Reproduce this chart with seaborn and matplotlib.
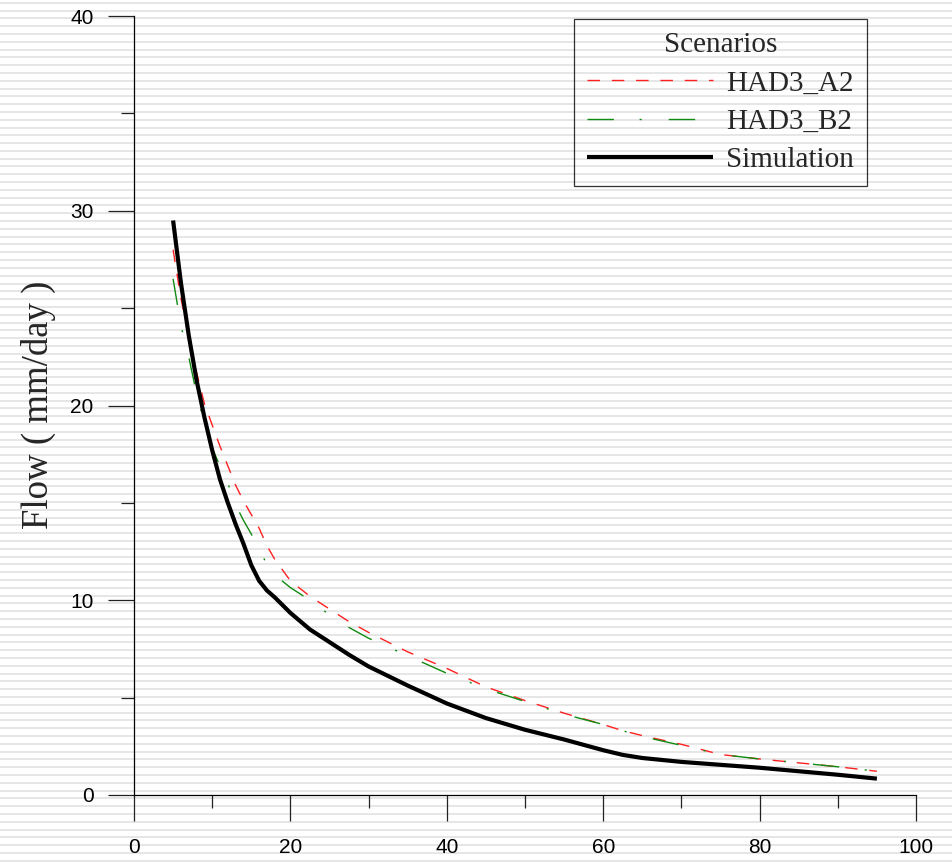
import numpy as np
import pandas as pd
import matplotlib
matplotlib.use("Agg")
import matplotlib.pyplot as plt
from matplotlib.lines import Line2D
import seaborn as sns

# Exceedance percentage (%) shared by all flow-duration curves
exceedance = [5, 6, 7, 8, 9, 10, 11, 12, 13, 14, 15, 16, 17, 18, 20, 22.5, 25,
              27.5, 30, 35, 40, 45, 50, 55, 60, 62.5, 65, 70, 75, 80, 85, 90, 95]

# Flow (mm/day) for each scenario
flow_a2 = [28.0, 25.5, 23.6, 21.7, 20.1, 19.0, 17.9, 16.9, 15.9, 15.1, 14.4,
           13.7, 12.8, 12.1, 11.0, 10.2, 9.55, 8.9, 8.35, 7.35, 6.5, 5.55,
           4.85, 4.2, 3.62, 3.3, 3.05, 2.6, 2.08, 1.85, 1.65, 1.45, 1.22]
flow_b2 = [26.5, 24.1, 22.5, 20.6, 19.1, 17.8, 16.9, 16.0, 14.9, 14.1, 13.4,
           12.7, 11.8, 11.3, 10.65, 10.0, 9.25, 8.6, 8.05, 7.15, 6.25, 5.45,
           4.8, 4.15, 3.62, 3.3, 3.0, 2.55, 2.08, 1.85, 1.65, 1.45, 1.22]
flow_sim = [29.5, 26.3, 23.6, 21.3, 19.4, 17.7, 16.2, 15.0, 13.9, 12.9, 11.8,
            11.0, 10.5, 10.15, 9.35, 8.5, 7.85, 7.2, 6.6, 5.62, 4.7, 3.95,
            3.35, 2.85, 2.3, 2.06, 1.9, 1.7, 1.55, 1.40, 1.22, 1.04, 0.84]

series_names = ["HAD3_A2", "HAD3_B2", "Simulation"]
x_ticks = [0, 20, 40, 60, 80, 100]
y_ticks = [0, 10, 20, 30, 40]

sns.set_theme(style="ticks")
plt.rcParams["font.family"] = ["Liberation Sans", "DejaVu Sans"]

W, H = 953, 864
fig = plt.figure(figsize=(W / 100, H / 100), dpi=100)
fig.patch.set_facecolor("white")

# Striped page background
bg = fig.add_axes([0, 0, 1, 1], zorder=-10)
bg.set_xlim(0, 1)
bg.set_ylim(H, 0)
bg.axis("off")
stripe_y = np.arange(2.7, H, 7.8)
bg.hlines(stripe_y, 0, 1, color="#e6e6e6", lw=1.4)

ax = fig.add_axes([134 / W, 1 - 795 / H, (916 - 134) / W, (795 - 16) / H])
ax.set_facecolor("none")

df = pd.DataFrame({"x": exceedance, "a2": flow_a2, "b2": flow_b2, "sim": flow_sim})

style_a2 = dict(color="#ff2020", lw=1.0, linestyle=(0, (9.0, 8.5)))
style_b2 = dict(color="#108a10", lw=1.0, linestyle=(0, (19.0, 18.5, 1.5, 19.5)))
style_sim = dict(color="black", lw=3.0, linestyle="-", solid_capstyle="butt")

sns.lineplot(data=df, x="x", y="a2", ax=ax, **style_a2)
sns.lineplot(data=df, x="x", y="b2", ax=ax, **style_b2)
sns.lineplot(data=df, x="x", y="sim", ax=ax, **style_sim)

ax.set_xlim(0, 100)
ax.set_ylim(0, 40)
ax.set_xticks(x_ticks)
ax.set_xticks(np.arange(10, 100, 20), minor=True)
ax.set_yticks(y_ticks)
ax.set_yticks(np.arange(5, 40, 10), minor=True)
ax.set_xticklabels([str(v) for v in x_ticks])
ax.set_yticklabels([str(v) for v in y_ticks])

for side in ("top", "right"):
    ax.spines[side].set_visible(False)
for side in ("left", "bottom"):
    ax.spines[side].set_color("black")
    ax.spines[side].set_linewidth(0.9)

ax.tick_params(axis="both", which="major", direction="out", length=19,
               width=0.9, color="#222222", labelsize=15, labelcolor="black")
ax.tick_params(axis="both", which="minor", direction="out", length=9.5,
               width=0.9, color="#222222")
ax.tick_params(axis="x", which="major", pad=12)
ax.tick_params(axis="y", which="major", pad=10)

ax.set_xlabel("")
ax.set_ylabel("Flow ( mm/day )", family=["Liberation Serif", "DejaVu Serif"],
              fontsize=26.5)
ax.yaxis.set_label_coords(-0.0997, 0.5006)

handles = [Line2D([], [], **style_a2), Line2D([], [], **style_b2),
           Line2D([], [], **style_sim)]
leg = ax.legend(handles, series_names, title="Scenarios",
                loc="upper right", bbox_to_anchor=(0.937, 0.996),
                borderaxespad=0, fancybox=False, frameon=True,
                prop={"family": ["Liberation Serif", "DejaVu Serif"], "size": 21},
                title_fontproperties={"family": ["Liberation Serif", "DejaVu Serif"],
                                      "size": 21},
                handlelength=4.3, handletextpad=0.45, labelspacing=0.41,
                borderpad=0.45)
frame = leg.get_frame()
frame.set_facecolor("none")
frame.set_edgecolor("black")
frame.set_linewidth(0.9)

fig.savefig("out.png", dpi=100)
